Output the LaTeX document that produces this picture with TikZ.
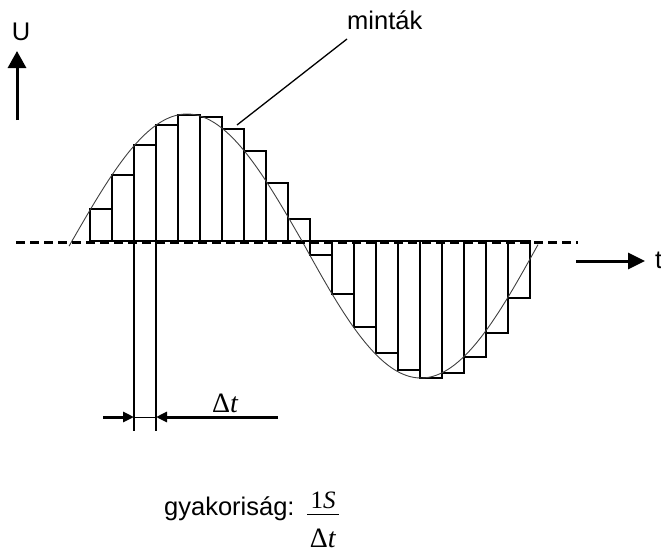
\documentclass[tikz,border=0pt]{standalone}
\usepackage{fontspec}
\setmainfont{Liberation Sans}
\newfontfamily\tmsfont{Liberation Serif}
\usetikzlibrary{arrows.meta}
\begin{document}
\begin{tikzpicture}[x=1pt,y=-1pt,
  lbl/.style={inner sep=0pt, font=\fontsize{25.5}{30}\selectfont},
  serif/.style={inner sep=0pt, font=\fontsize{28}{32}\selectfont\tmsfont},
  serifsmall/.style={inner sep=0pt, font=\fontsize{25}{30}\selectfont\tmsfont},
  barline/.style={line width=1.3pt},
  curve/.style={line width=0.9pt, black!75},
  axisarrow/.style={line width=3pt, -{Triangle[length=17pt,width=18pt]}},
  taxisarrow/.style={line width=3pt, -{Triangle[length=17pt,width=16pt]}},
  dimarrow/.style={line width=3pt, -{Triangle[length=11pt,width=10pt]}},
  baseline dash/.style={line width=3pt, dash pattern=on 9pt off 5pt},
  thinline/.style={line width=1pt},
]
\useasboundingbox (0,0) rectangle (661,549);

% samples (bars)
\foreach \i/\h in {0/209,1/175,2/145,3/125,4/115,5/117,6/129,7/151,8/183,9/219,
                   10/255,11/294,12/327,13/353,14/370,15/378,16/373,17/357,18/333,19/298}
  \draw[barline] ({90+22*\i},241) rectangle ({112+22*\i},\h);

% sine curve
\draw[curve] plot[domain=69:302,samples=120] (\x,{241-127*sin((\x-72)/230*180)})
  -- plot[domain=302:538,samples=120] (\x,{241+137*sin((\x-302)/238*180)});

% dashed zero line
\coordinate (b0) at (16,242);
\coordinate (b1) at (578,242);
\draw[baseline dash] (b0) -- (b1);

% U axis
\node[lbl, anchor=base] (U) at (21,40) {U};
\coordinate (ubot) at (17,120);
\coordinate (utop) at (17,51);
\draw[axisarrow] (ubot) -- (utop);

% t axis
\node[lbl, anchor=base west] (T) at (655,268) {t};
\coordinate (tl) at (576,261);
\coordinate (tr) at (645,261);
\draw[taxisarrow] (tl) -- (tr);

% label mintak
\node[lbl, anchor=base west] (minta) at (347,29) {minták};
\coordinate (l1) at (237,125);
\coordinate (l2) at (347,39);
\draw[barline] (l1) -- (l2);

% delta t dimension
\coordinate (v1t) at (134,241); \coordinate (v1b) at (134,431);
\coordinate (v2t) at (156,241); \coordinate (v2b) at (156,431);
\draw[barline] (v1t) -- (v1b);
\draw[barline] (v2t) -- (v2b);
\coordinate (a1) at (134,417); \coordinate (a2) at (156,417);
\coordinate (a0) at (103,417); \coordinate (a3) at (278,417);
\draw[thinline] (a1) -- (a2);
\draw[dimarrow] (a0) -- (a1);
\draw[dimarrow] (a3) -- (a2);
\node[serif, anchor=base west] (dt) at (212,412) {Δ\textit{t}};

% frequency
\node[lbl, anchor=base west] (gy) at (164,515) {gyakoriság:};
\node[serifsmall, anchor=base] (num) at (323,508) {1\textit{S}};
\node[serif, anchor=base] (den) at (323,547) {Δ\textit{t}};
\coordinate (f0) at (307,514); \coordinate (f1) at (339,514);
\draw[line width=0.9pt] (f0) -- (f1);
\end{tikzpicture}
\end{document}
